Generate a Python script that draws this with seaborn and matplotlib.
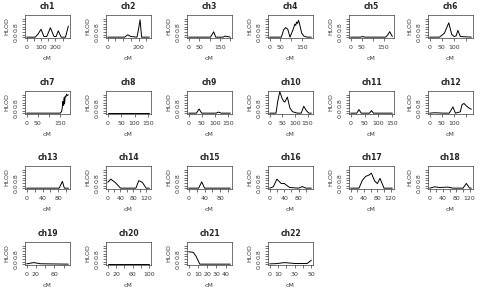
import matplotlib
matplotlib.use("Agg")
import matplotlib.pyplot as plt
import seaborn as sns
import pandas as pd

# ---- data: positions (cM) and HLOD values per chromosome ----
chromosomes = [f"ch{i}" for i in range(1, 23)]

ch1_cm = [0, 60, 80, 100, 120, 140, 165, 190, 205, 220, 240, 270, 290]
ch1_hlod = [0, 0, 0.25, 0.6, 0.05, 0.05, 0.72, 0.05, 0.05, 0.48, 0, 0, 0.84]
ch2_cm = [0, 110, 130, 150, 190, 200, 210, 220, 270]
ch2_hlod = [0, 0, 0.18, 0.05, 0, 0.6, 1.33, 0, 0]
ch3_cm = [0, 105, 120, 130, 165, 175, 200]
ch3_hlod = [0, 0, 0.41, 0, 0, 0.08, 0]
ch4_cm = [0, 55, 65, 75, 85, 95, 110, 118, 122, 126, 130, 135, 140, 150, 160, 175, 195]
ch4_hlod = [0, 0, 0.55, 0.73, 0.6, 0, 0.6, 1.0, 0.9, 1.15, 1.05, 1.29, 1.0, 0.3, 0.08, 0, 0]
ch5_cm = [0, 45, 55, 65, 160, 170, 178, 185, 190]
ch5_hlod = [0, 0, 0.05, 0, 0, 0.2, 0.42, 0.2, 0.05]
ch6_cm = [0, 40, 60, 78, 90, 100, 108, 115, 125, 170]
ch6_hlod = [0, 0, 0.3, 1.1, 0.2, 0.05, 0.1, 0.52, 0.05, 0]
ch7_cm = [0, 150, 155, 158, 162, 164, 167, 169, 172, 175, 178, 182, 186]
ch7_hlod = [0, 0, 0.1, 0.3, 0.9, 0.6, 1.2, 0.7, 1.3, 1.25, 1.45, 1.35, 1.4]
ch8_cm = [0, 155]
ch8_hlod = [0, 0]
ch9_cm = [0, 30, 40, 50, 105, 115, 125, 160]
ch9_hlod = [0, 0, 0.32, 0, 0, 0.08, 0, 0]
ch10_cm = [0, 25, 32, 40, 50, 55, 60, 70, 80, 90, 100, 110, 125, 135, 145, 155, 165]
ch10_hlod = [0, 0, 0.9, 1.64, 1.1, 0.92, 0.85, 1.23, 0.4, 0.12, 0.05, 0, 0, 0.53, 0.2, 0, 0]
ch11_cm = [0, 22, 30, 38, 68, 75, 82, 150]
ch11_hlod = [0, 0, 0.27, 0, 0, 0.2, 0, 0]
ch12_cm = [0, 20, 60, 80, 95, 105, 125, 132, 140, 150, 160, 170]
ch12_hlod = [0, 0.03, 0, 0, 0.48, 0, 0.1, 0.65, 0.74, 0.55, 0.4, 0.3]
ch13_cm = [0, 82, 90, 95, 105]
ch13_hlod = [0, 0, 0.52, 0, 0]
ch14_cm = [0, 10, 25, 40, 88, 97, 108, 120, 130]
ch14_hlod = [0.45, 0.69, 0.4, 0, 0, 0.57, 0.45, 0, 0]
ch15_cm = [0, 25, 33, 40, 105]
ch15_hlod = [0, 0, 0.48, 0, 0]
ch16_cm = [0, 10, 20, 32, 40, 55, 80, 90, 100, 115]
ch16_hlod = [0, 0.1, 0.69, 0.35, 0.36, 0.05, 0, 0.12, 0, 0]
ch17_cm = [0, 25, 35, 45, 55, 62, 72, 80, 88, 100, 125]
ch17_hlod = [0, 0, 0.6, 0.9, 1.0, 1.15, 0.55, 0.35, 0.75, 0, 0]
ch18_cm = [0, 15, 30, 55, 70, 100, 110, 120, 125]
ch18_hlod = [0, 0.1, 0.05, 0.08, 0, 0, 0.36, 0, 0]
ch19_cm = [0, 15, 30, 90]
ch19_hlod = [0.02, 0.12, 0.03, 0]
ch20_cm = [0, 100]
ch20_hlod = [0, 0]
ch21_cm = [0, 5, 8, 12, 45]
ch21_hlod = [0.95, 0.9, 0.6, 0, 0]
ch22_cm = [0, 8, 18, 30, 45, 50]
ch22_hlod = [0.02, 0.04, 0.12, 0.05, 0.05, 0.3]

cm_data = [ch1_cm, ch2_cm, ch3_cm, ch4_cm, ch5_cm, ch6_cm, ch7_cm, ch8_cm, ch9_cm,
           ch10_cm, ch11_cm, ch12_cm, ch13_cm, ch14_cm, ch15_cm, ch16_cm, ch17_cm,
           ch18_cm, ch19_cm, ch20_cm, ch21_cm, ch22_cm]
hlod_data = [ch1_hlod, ch2_hlod, ch3_hlod, ch4_hlod, ch5_hlod, ch6_hlod, ch7_hlod,
             ch8_hlod, ch9_hlod, ch10_hlod, ch11_hlod, ch12_hlod, ch13_hlod,
             ch14_hlod, ch15_hlod, ch16_hlod, ch17_hlod, ch18_hlod, ch19_hlod,
             ch20_hlod, ch21_hlod, ch22_hlod]

# x tick marks and which labels are shown
x_ticks = [
    [0, 50, 100, 150, 200, 250], [0, 50, 100, 150, 200, 250], [0, 50, 100, 150, 200],
    [0, 50, 100, 150], [0, 50, 100, 150], [0, 50, 100, 150],
    [0, 50, 100, 150], [0, 50, 100, 150], [0, 50, 100, 150],
    [0, 50, 100, 150], [0, 50, 100, 150], [0, 50, 100, 150],
    [0, 20, 40, 60, 80, 100], [0, 20, 40, 60, 80, 100, 120], [0, 20, 40, 60, 80, 100],
    [0, 20, 40, 60, 80, 100], [0, 20, 40, 60, 80, 100, 120], [0, 20, 40, 60, 80, 100, 120],
    [0, 20, 40, 60, 80], [0, 20, 40, 60, 80, 100], [0, 10, 20, 30, 40],
    [0, 10, 20, 30, 40, 50],
]
x_labels = [
    [0, 100, 200], [0, 200], [0, 50, 150], [0, 50, 150], [0, 50, 150], [0, 50, 100],
    [0, 50, 150], [0, 50, 100, 150], [0, 50, 100, 150], [0, 50, 100, 150],
    [0, 50, 100, 150], [0, 50, 100], [0, 40, 80], [0, 40, 80, 120], [0, 40, 80],
    [0, 40, 80], [0, 40, 80, 120], [0, 40, 80, 120], [0, 20, 60], [0, 20, 60, 100],
    [0, 10, 20, 30, 40], [0, 10, 30, 50],
]
y_ticks = [0.0, 0.2, 0.4, 0.6, 0.8, 1.0, 1.2, 1.4]
y_labels = [0.0, 0.8]
y_max = 1.63

sns.set_style("ticks")
plt.rcParams['font.family'] = ['DejaVu Sans']

fig = plt.figure(figsize=(4.8, 2.92), dpi=100)
ncol = 6
pw, ph = 45, 23
col_x = [25, 106, 187, 268, 349, 428]
row_y = [15, 91, 166, 242]
ink = "#3a3a3a"

for i, name in enumerate(chromosomes):
    r, c = divmod(i, ncol)
    ax = fig.add_axes([col_x[c] / 480, 1 - (row_y[r] + ph) / 292, pw / 480, ph / 292])
    df = pd.DataFrame({"cM": cm_data[i], "HLOD": hlod_data[i]})
    sns.lineplot(data=df, x="cM", y="HLOD", ax=ax, color="black", linewidth=0.7)
    xmax = cm_data[i][-1]
    pad = 0.04 * xmax
    ax.set_xlim(-pad, xmax + pad)
    ypad = 0.04 * y_max
    ax.set_ylim(-ypad, y_max + ypad)
    ax.set_xticks(x_ticks[i])
    ax.set_xticklabels([str(t) if t in x_labels[i] else "" for t in x_ticks[i]])
    ax.set_yticks(y_ticks)
    ax.set_yticklabels([f"{t:.1f}" if t in y_labels else "" for t in y_ticks],
                       rotation=90, va="center")
    ax.tick_params(axis="both", labelsize=4.5, length=2.5, width=0.5, pad=2.2,
                   colors=ink)
    for s in ax.spines.values():
        s.set_linewidth(0.5)
        s.set_color(ink)
    ax.set_title(name, fontsize=5.5, fontweight="bold", pad=4)
    ax.set_xlabel("cM", fontsize=4.5, labelpad=5, color=ink)
    ax.set_ylabel("HLOD", fontsize=4.5, labelpad=3, color=ink)

fig.savefig("out.png", dpi=100)
